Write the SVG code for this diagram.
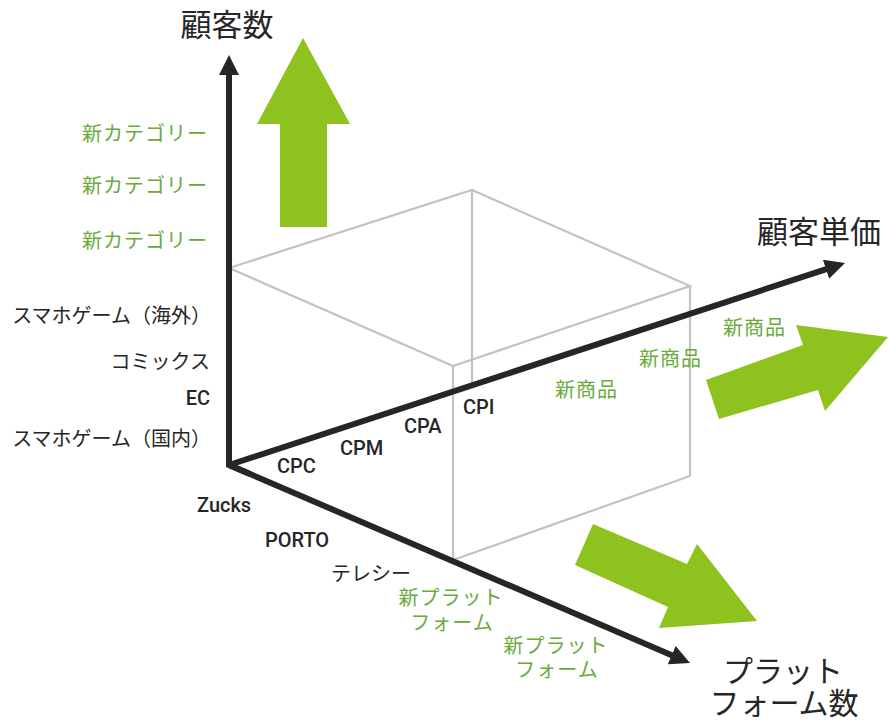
<svg xmlns="http://www.w3.org/2000/svg" width="889" height="721" viewBox="0 0 889 721">
<style>
.box{fill:none;stroke:#c3c3c3;stroke-width:2.2}
.axis{fill:none;stroke:#262626;stroke-width:6;stroke-linejoin:miter}
.big{fill:#8dc21f}
.t{font-family:Roboto,"Noto Sans CJK JP",sans-serif;font-size:20px;fill:#262626}
.g{font-family:Roboto,"Noto Sans CJK JP",sans-serif;font-size:20px;fill:#6aaa3a;letter-spacing:1px}
.lat{font-weight:500}
.title{font-family:"Noto Sans CJK JP",sans-serif;font-size:31px;fill:#262626}
.title2{font-family:"Noto Sans CJK JP",sans-serif;font-size:30px;fill:#262626}
</style>
<defs>
<marker id="ah" viewBox="0 0 20 20" refX="2" refY="10" markerWidth="20" markerHeight="20" markerUnits="userSpaceOnUse" orient="auto">
<path d="M0,0 L20,10 L0,20 z" fill="#262626"/>
</marker>
</defs>
<g id="box">
<polyline class="box" points="229,268 472,190 690,286 453,366 229,268"/>
<line class="box" x1="472" y1="190" x2="472" y2="385"/>
<line class="box" x1="690" y1="286" x2="690" y2="476"/>
<line class="box" x1="453" y1="366" x2="453" y2="560"/>
<line class="box" x1="453" y1="560" x2="690" y2="476"/>
</g>
<g id="connectors">
<path class="axis" d="M229,465 L229,73" marker-end="url(#ah)"/>
<path class="axis" d="M229,465 L827.9,268.6" marker-end="url(#ah)"/>
<path class="axis" d="M229,465 L673.5,655.9" marker-end="url(#ah)"/>
<path class="axis" d="M229,440 L229,465 L250,474"/>
</g>
<g id="growth-arrows">
<polygon class="big" points="303,38 350,124 327,124 327,227 280,227 280,124 257,124"/>
<polygon class="big" points="706,380 803,345 796,325 888,337 825,411 818,390 719,419"/>
<polygon class="big" points="593,524 687,564 697,544 757,621 659,628 668,607 575,565"/>
</g>
<g id="axis-titles">
<text class="title" x="227" y="36" text-anchor="middle">顧客数</text>
<text class="title" x="819" y="243" text-anchor="middle">顧客単価</text>
<text class="title2" x="783" y="682" text-anchor="middle">プラット</text>
<text class="title2" x="784" y="714" text-anchor="middle">フォーム数</text>
</g>
<g id="y-labels">
<text class="g" x="208" y="141" text-anchor="end">新カテゴリー</text>
<text class="g" x="208" y="193" text-anchor="end">新カテゴリー</text>
<text class="g" x="208" y="248" text-anchor="end">新カテゴリー</text>
<text class="t" x="211" y="323" text-anchor="end">スマホゲーム（海外）</text>
<text class="t" x="210" y="369" text-anchor="end">コミックス</text>
<text class="t lat" x="210" y="405" text-anchor="end">EC</text>
<text class="t" x="211" y="446" text-anchor="end">スマホゲーム（国内）</text>
</g>
<g id="x-labels">
<text class="t lat" x="277" y="473">CPC</text>
<text class="t lat" x="340" y="455">CPM</text>
<text class="t lat" x="404" y="433">CPA</text>
<text class="t lat" x="463" y="414">CPI</text>
<text class="g" x="555" y="397">新商品</text>
<text class="g" x="639" y="366">新商品</text>
<text class="g" x="723" y="335">新商品</text>
</g>
<g id="z-labels">
<text class="t lat" x="197" y="512">Zucks</text>
<text class="t lat" x="265" y="547">PORTO</text>
<text class="t" x="331" y="581">テレシー</text>
<text class="g" x="451" y="605" text-anchor="middle">新プラット</text>
<text class="g" x="452" y="630" text-anchor="middle">フォーム</text>
<text class="g" x="556" y="653" text-anchor="middle">新プラット</text>
<text class="g" x="557" y="677" text-anchor="middle">フォーム</text>
</g>
</svg>
